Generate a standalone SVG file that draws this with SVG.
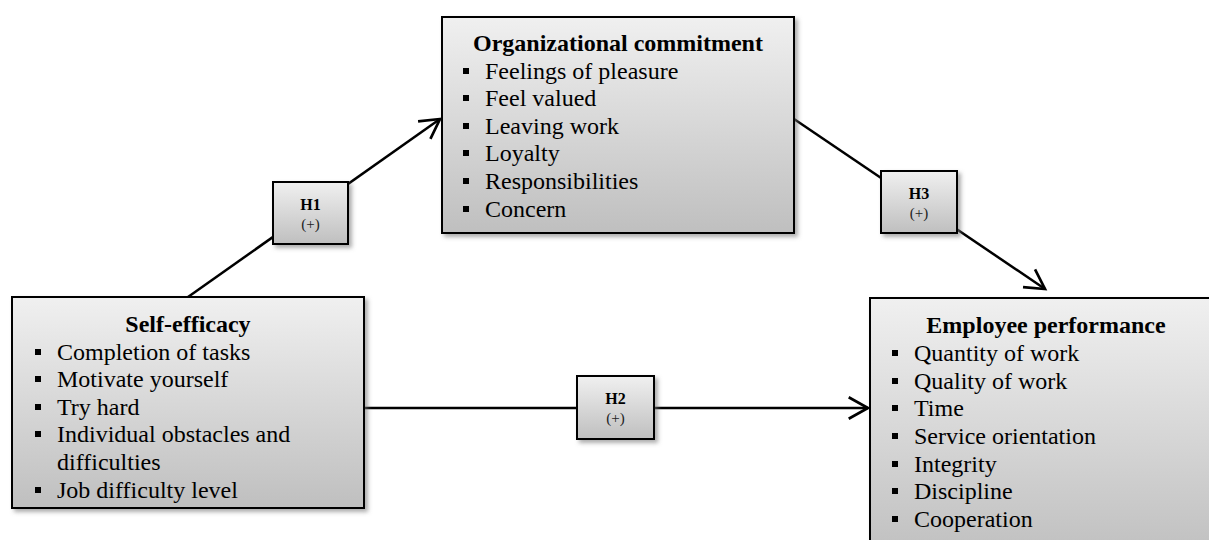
<svg xmlns="http://www.w3.org/2000/svg" width="1209" height="540" viewBox="0 0 1209 540">
<style>
.box{fill:url(#g);stroke:#000;stroke-width:2;filter:url(#sh)}
.hbox{fill:url(#g);stroke:#000;stroke-width:2;filter:url(#sh)}
.t{font-family:"Liberation Serif","Times New Roman",serif;font-size:24px;fill:#000}
.tb{font-family:"Liberation Serif","Times New Roman",serif;font-size:24px;font-weight:bold;fill:#000;text-anchor:middle}
.hb{font-family:"Liberation Serif","Times New Roman",serif;font-size:16px;font-weight:bold;fill:#000;text-anchor:middle}
.hp{font-family:"Liberation Serif","Times New Roman",serif;font-size:15px;fill:#222;text-anchor:middle}
.bul{fill:#000}
.con{stroke:#000;stroke-width:2.5;fill:none;marker-end:url(#arr)}
</style>
<defs>
<linearGradient id="g" x1="0" y1="0" x2="0" y2="1">
<stop offset="0" stop-color="#f0f0f0"/>
<stop offset="1" stop-color="#bfbfbf"/>
</linearGradient>
<filter id="sh" x="-10%" y="-10%" width="130%" height="130%">
<feDropShadow dx="3" dy="3" stdDeviation="2" flood-color="#777" flood-opacity="0.6"/>
</filter>
<marker id="arr" markerUnits="userSpaceOnUse" markerWidth="30" markerHeight="30" viewBox="-22 -14 26 28" refX="0" refY="0" orient="auto">
<path d="M-18,-10 L0,0 L-18,10" fill="none" stroke="#000" stroke-width="2.5"/>
</marker>
</defs>
<g id="connectors">
<line class="con" x1="188" y1="297" x2="440" y2="119"/>
<line class="con" x1="794" y1="119" x2="1045" y2="289"/>
<line class="con" x1="364" y1="408" x2="868" y2="408"/>
</g>
<g id="self-efficacy">
<rect class="box" x="12" y="297" width="352" height="211"/>
<text class="tb" x="188" y="332">Self-efficacy</text>
<rect class="bul" x="35" y="349" width="6" height="6"/><text class="t" x="57" y="360">Completion of tasks</text>
<rect class="bul" x="35" y="376" width="6" height="6"/><text class="t" x="57" y="387">Motivate yourself</text>
<rect class="bul" x="35" y="404" width="6" height="6"/><text class="t" x="57" y="415">Try hard</text>
<rect class="bul" x="35" y="431" width="6" height="6"/><text class="t" x="57" y="442">Individual obstacles and</text>
<text class="t" x="57" y="470">difficulties</text>
<rect class="bul" x="35" y="487" width="6" height="6"/><text class="t" x="57" y="498">Job difficulty level</text>
</g>
<g id="organizational-commitment">
<rect class="box" x="442" y="17" width="352" height="216"/>
<text class="tb" x="618" y="51">Organizational commitment</text>
<rect class="bul" x="463" y="68" width="6" height="6"/><text class="t" x="485" y="79">Feelings of pleasure</text>
<rect class="bul" x="463" y="95" width="6" height="6"/><text class="t" x="485" y="106">Feel valued</text>
<rect class="bul" x="463" y="123" width="6" height="6"/><text class="t" x="485" y="134">Leaving work</text>
<rect class="bul" x="463" y="150" width="6" height="6"/><text class="t" x="485" y="161">Loyalty</text>
<rect class="bul" x="463" y="178" width="6" height="6"/><text class="t" x="485" y="189">Responsibilities</text>
<rect class="bul" x="463" y="206" width="6" height="6"/><text class="t" x="485" y="217">Concern</text>
</g>
<g id="employee-performance">
<rect class="box" x="870" y="298" width="352" height="262"/>
<text class="tb" x="1046" y="333">Employee performance</text>
<rect class="bul" x="892" y="350" width="6" height="6"/><text class="t" x="914" y="361">Quantity of work</text>
<rect class="bul" x="892" y="378" width="6" height="6"/><text class="t" x="914" y="389">Quality of work</text>
<rect class="bul" x="892" y="405" width="6" height="6"/><text class="t" x="914" y="416">Time</text>
<rect class="bul" x="892" y="433" width="6" height="6"/><text class="t" x="914" y="444">Service orientation</text>
<rect class="bul" x="892" y="461" width="6" height="6"/><text class="t" x="914" y="472">Integrity</text>
<rect class="bul" x="892" y="488" width="6" height="6"/><text class="t" x="914" y="499">Discipline</text>
<rect class="bul" x="892" y="516" width="6" height="6"/><text class="t" x="914" y="527">Cooperation</text>
</g>
<g id="h1">
<rect class="hbox" x="273" y="182" width="75" height="62"/>
<text class="hb" x="310.5" y="210">H1</text>
<text class="hp" x="310.5" y="229">(+)</text>
</g>
<g id="h2">
<rect class="hbox" x="577" y="376" width="77" height="63"/>
<text class="hb" x="615.5" y="404">H2</text>
<text class="hp" x="615.5" y="423">(+)</text>
</g>
<g id="h3">
<rect class="hbox" x="881" y="171" width="76" height="62"/>
<text class="hb" x="919" y="199">H3</text>
<text class="hp" x="919" y="218">(+)</text>
</g>
</svg>
